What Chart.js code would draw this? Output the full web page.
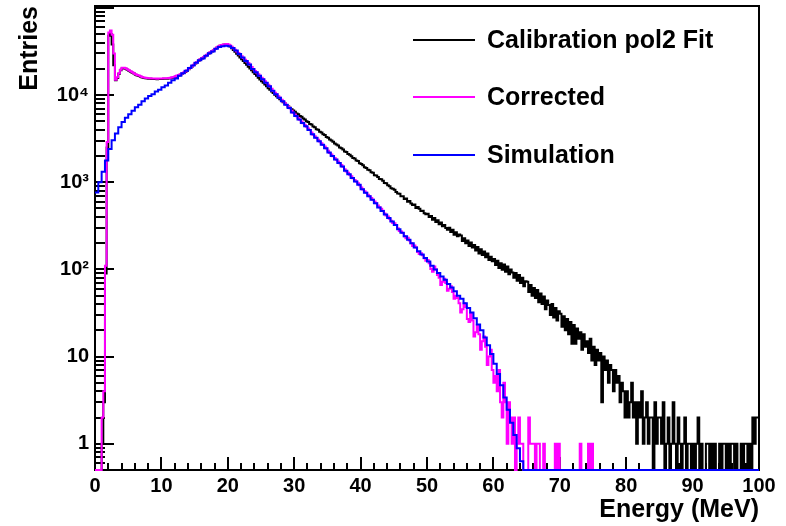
<!DOCTYPE html>
<html><head><meta charset="utf-8">
<script src="https://cdn.jsdelivr.net/npm/chart.js@4.4.1/dist/chart.umd.min.js"></script>
<style>html,body{margin:0;padding:0;background:#fff}#wrap{width:786px;height:526px;position:relative}</style>
</head><body><div id="wrap"><canvas id="c"></canvas></div>
<script>
// ---- data ----
const dataBinWidth = 0.25;   // MeV, measured histograms (0..100 MeV)
const simBinWidth = 0.5;     // MeV, simulation histogram (0..100 MeV)
const seriesNames = ['Calibration pol2 Fit', 'Corrected', 'Simulation'];
const xAxisTitle = 'Energy (MeV)';
const yAxisTitle = 'Entries';
const yTickValues = [1, 10, 100, 1000, 10000];
const yTickLabels = ['1', '10', '10\u00B2', '10\u00B3', '10\u2074'];

const calibration = [
0,0,0,0,1,3,90,2500,48000,50000,38000,22000,14800,15700,17500,19200,20200,20300,20000,19500,
19000,18500,18000,17600,17100,16800,16500,16200,15900,15700,15600,15500,15400,15400,15300,15300,15300,15200,15300,15300,
15300,15400,15400,15400,15500,15600,15800,15900,16200,16500,16800,17100,17500,17900,18400,19000,19700,20400,21200,22100,
23000,23800,24700,25500,26200,26900,27800,28800,29800,30800,31600,32500,33700,34900,35800,36800,37400,37800,38100,38200,
37500,36000,34500,32900,31300,29800,28400,27000,25700,24500,23300,22200,21100,20100,19200,18300,17400,16600,15800,15100,
14400,13800,13200,12600,12000,11500,11000,10550,10100,9700,9300,8950,8600,8280,7970,7680,7400,7130,6880,6640,
6450,6150,6020,5740,5620,5370,5250,5000,4910,4660,4580,4350,4280,4060,3990,3790,3720,3540,3470,3300,
3230,3080,3010,2920,2780,2710,2630,2500,2460,2370,2250,2220,2100,2070,1990,1900,1870,1770,1750,1650,
1620,1570,1480,1460,1390,1370,1300,1280,1200,1190,1150,1090,1080,1040,980,970,920,900,850,840,
820,772,741,738,690,692,640,650,598,607,570,548,556,505,520,497,468,470,441,428,
435,398,410,372,388,350,365,330,345,312,322,298,284,300,268,285,250,266,240,252,
245,212,228,200,215,185,204,178,190,165,181,152,170,146,160,138,152,128,140,124,
132,112,126,104,118,99,114,94,108,88,100,92,80,91,74,86,70,80,64,73,
72,55,66,50,61,47,58,42,53,40,49,35,44,39,30,40,28,36,26,33,
31,22,29,20,27,18,25,14,23,14,21,16,19,12,18,13,15,11,16,9,
13,8,12,9,11,3,10,7,9,5,8,7,4,7,5,6,3,5,4,2,
4,2,3,5,2,3,1,3,2,4,1,2,3,1,2,2,0,3,1,2,
2,1,3,0,1,2,0,1,3,1,0,2,1,0,1,2,0,1,1,0,
1,0,1,2,0,1,0,0,1,1,0,1,0,1,0,0,1,0,1,1,
0,1,0,1,1,0,1,0,0,1,0,1,1,0,1,0,2,1,2,2
];

const corrected = [
0,0,0,0,2,4,110,2900,52000,55000,49000,30000,15000,16000,17800,19500,20500,20600,20300,19800,
19200,18700,18200,17800,17300,17000,16700,16400,16100,15900,15800,15700,15600,15600,15500,15500,15500,15400,15500,15500,
15500,15600,15600,15600,15700,15800,16000,16100,16400,16700,17000,17300,17700,18100,18600,19200,19900,20600,21400,22300,
23200,24000,24900,25700,26400,27100,28000,29000,30000,31000,31800,32700,33900,35100,36000,37000,37600,38000,38300,38400,
38000,37000,35800,34500,33000,31600,30300,29100,27800,26600,25400,24300,23300,22200,21000,19800,18900,18100,17300,16600,
15800,15100,14400,13700,13100,12500,11800,11100,10600,10200,9700,9300,8850,8450,8050,7700,7350,7050,6600,6250,
5980,5720,5460,5220,4980,4760,4540,4340,4140,3960,3710,3510,3370,3210,3070,2930,2800,2680,2560,2440,
2290,2170,2080,1980,1890,1810,1730,1650,1580,1500,1410,1330,1280,1220,1170,1110,1060,1020,975,925,
870,825,790,755,720,690,660,630,600,575,540,515,495,470,438,415,405,382,362,340,
338,322,296,275,272,262,240,228,230,215,200,186,188,178,158,150,153,145,134,126,
128,118,101,94,108,100,86,80,66,72,78,70,57,60,64,55,46,50,47,41,
32,35,41,37,27,25,31,26,17,19,23,18,12,15,17,13,8,10,12,7,
5,6,4,7,3,2,5,3,1,3,2,1,2,0,1,2,1,1,0,0,
0,2,1,1,1,0,1,1,0,0,1,0,0,0,0,0,0,1,0,1,
0,0,0,0,0,0,0,0,0,0,0,0,1,0,0,0,0,1,0,1,
0,0,0,0,0,0,0,0,0,0,0,0,0,0,0,0,0,0,0,0,
0,0,0,0,0,0,0,0,0,0,0,0,0,0,0,0,0,0,0,0,
0,0,0,0,0,0,0,0,0,0,0,0,0,0,0,0,0,0,0,0,
0,0,0,0,0,0,0,0,0,0,0,0,0,0,0,0,0,0,0,0,
0,0,0,0,0,0,0,0,0,0,0,0,0,0,0,0,0,0,0,0
];

const simulation = [
760,1000,1320,1780,2400,3020,3630,4270,4900,5500,6030,6610,7240,7760,8510,9120,9770,10230,10960,11480,
12300,12880,13800,14790,15490,16600,17780,19050,20420,21880,23440,25120,26300,28180,30200,31620,33880,35480,36310,36730,
36310,34670,32360,29510,26920,24550,22390,19950,18200,16600,15140,13800,12590,11220,10230,9330,8510,7760,7080,6310,
5750,5250,4790,4370,3980,3550,3240,2950,2690,2450,2190,2000,1820,1660,1510,1350,1230,1120,1020,933,
832,759,692,631,575,513,468,427,389,355,324,288,263,240,219,200,178,162,148,135,
123,110,100,91,83,76,68,62,56,50,46,41,36,32,27.5,23.4,20,16.6,13.5,10.7,
8.3,6.3,4.7,3.4,2.45,1.74,1.26,0.89,0.63,0,0,0,0,0,0,0,0,0,0,0,
0,0,0,0,0,0,0,0,0,0,0,0,0,0,0,0,0,0,0,0,
0,0,0,0,0,0,0,0,0,0,0,0,0,0,0,0,0,0,0,0,
0,0,0,0,0,0,0,0,0,0,0,0,0,0,0,0,0,0,0,0
];

// ---- styling ----
const FONT = "'Liberation Sans', Arial, Helvetica, sans-serif";
const Y_MIN = 0.5, Y_MAX = 105000;
const colors = ['#000000', '#ff00ff', '#0000ff'];

// histogram drawn as a stepped line through bin centres (steps fall on bin edges);
// empty bins sit on the axis floor, as ROOT draws them
function toSteps(vals, w) {
  const f = v => (v > 0 ? v : Y_MIN);
  const pts = [{x: 0, y: f(vals[0])}];
  vals.forEach((v, i) => pts.push({x: (i + 0.5) * w, y: f(v)}));
  pts.push({x: vals.length * w, y: f(vals[vals.length - 1])});
  return pts;
}

const seriesData = [calibration, corrected, simulation];
const seriesBinWidth = [dataBinWidth, dataBinWidth, simBinWidth];
const drawOrder = [2, 1, 0];

const framePlugin = {
  id: 'frame',
  beforeDatasetsDraw(chart) {
    const {ctx, chartArea: a, scales: {x, y}} = chart;
    ctx.save();
    ctx.strokeStyle = '#000';
    ctx.lineWidth = 2;
    ctx.strokeRect(a.left, a.top, a.right - a.left, a.bottom - a.top);
    ctx.beginPath();
    for (let v = x.min; v <= x.max; v += 2) {
      const px = Math.round(x.getPixelForValue(v));
      const len = (v % 10 === 0) ? 13 : 7;
      ctx.moveTo(px, a.bottom); ctx.lineTo(px, a.bottom - len);
    }
    for (let d = -1; d <= 5; d++) {
      for (let k = 1; k <= 9; k++) {
        const v = k * Math.pow(10, d);
        if (v < y.min * 0.999 || v > y.max) continue;
        const py = Math.round(y.getPixelForValue(v));
        const len = k === 1 ? 19 : 10;
        ctx.moveTo(a.left, py); ctx.lineTo(a.left + len, py);
      }
    }
    ctx.stroke();
    ctx.restore();
  }
};

const legendPlugin = {
  id: 'rootLegend',
  afterDatasetsDraw(chart) {
    const {ctx} = chart;
    const rows = [40, 97, 155];
    ctx.save();
    ctx.font = "bold 25px " + FONT;
    ctx.textBaseline = 'middle';
    ctx.textAlign = 'left';
    seriesNames.forEach((name, i) => {
      ctx.strokeStyle = colors[i];
      ctx.lineWidth = 2;
      ctx.beginPath();
      ctx.moveTo(413, rows[i]); ctx.lineTo(475, rows[i]);
      ctx.stroke();
      ctx.fillStyle = '#000';
      ctx.fillText(name, 487, rows[i] + 1);
    });
    ctx.restore();
  }
};

new Chart(document.getElementById('c'), {
  type: 'line',
  data: {
    datasets: seriesNames.map((name, i) => ({
      label: name,
      data: toSteps(seriesData[i], seriesBinWidth[i]),
      borderColor: colors[i],
      backgroundColor: colors[i],
      borderWidth: 2,
      stepped: 'middle',
      pointRadius: 0,
      fill: false,
      order: drawOrder[i],
      clip: {left: 1, top: 1, right: 1, bottom: 2}
    }))
  },
  options: {
    animation: false,
    responsive: true,
    maintainAspectRatio: false,
    layout: {padding: {top: 6, right: 27, left: 0, bottom: 0}},
    plugins: {legend: {display: false}, tooltip: {enabled: false}},
    scales: {
      x: {
        type: 'linear', min: 0, max: 100,
        afterFit(s) { s.height = 56; s.paddingLeft = 0; s.paddingRight = 0; },
        grid: {display: false, drawTicks: false},
        border: {display: false},
        ticks: {stepSize: 10, padding: 4, color: '#000', maxRotation: 0, autoSkip: false,
                font: {family: FONT, size: 20, weight: 'bold'}},
        title: {display: true, text: xAxisTitle, align: 'end', color: '#000',
                font: {family: FONT, size: 25, weight: 'bold'}, padding: {top: 0, bottom: 1}}
      },
      y: {
        type: 'logarithmic', min: Y_MIN, max: Y_MAX,
        afterFit(s) { s.width = 95; s.paddingTop = 0; s.paddingBottom = 0; },
        afterBuildTicks(s) { s.ticks = yTickValues.map(v => ({value: v})); },
        grid: {display: false, drawTicks: false},
        border: {display: false},
        ticks: {padding: 6, color: '#000', font: {family: FONT, size: 20, weight: 'bold'},
                callback: (v, i) => yTickLabels[i]},
        title: {display: true, text: yAxisTitle, align: 'end', color: '#000',
                font: {family: FONT, size: 25, weight: 'bold'}, padding: {top: 15, bottom: 0}}
      }
    }
  },
  plugins: [framePlugin, legendPlugin]
});
</script>
</body></html>
